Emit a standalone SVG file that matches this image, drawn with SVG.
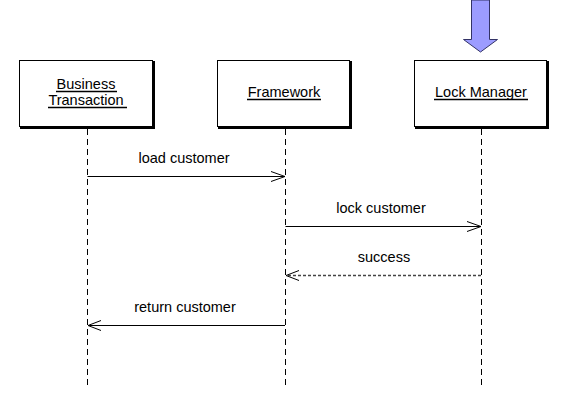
<svg xmlns="http://www.w3.org/2000/svg" width="564" height="413" viewBox="0 0 564 413">
<defs>
<style>
text{font-family:"Liberation Sans",Arial,sans-serif;font-size:14.5px;fill:#000}
.box{fill:#fff;stroke:#000;stroke-width:1}
.shadow{fill:none;stroke:#000;stroke-width:2}
.life{stroke:#000;stroke-width:1;stroke-dasharray:6,4;fill:none}
.msg{stroke:#000;stroke-width:1;fill:none}
.ret{stroke:#444;stroke-width:1.6;stroke-dasharray:3,2;fill:none}
.ul{stroke:#000;stroke-width:1.3}
.head{stroke:#000;stroke-width:1;fill:none}
</style>
</defs>
<rect width="564" height="413" fill="#fff"/>
<g id="node-business">
<rect class="box" x="19.5" y="60.5" width="133" height="66"/>
<polyline class="shadow" points="154,61 154,128 20,128"/>
<text x="86" y="89" text-anchor="middle">Business</text>
<text x="86" y="105" text-anchor="middle">Transaction</text>
<line class="ul" x1="56" y1="91.5" x2="117" y2="91.5"/>
<line class="ul" x1="48" y1="107.5" x2="127" y2="107.5"/>
</g>
<g id="node-framework">
<rect class="box" x="217.5" y="60.5" width="132" height="66"/>
<polyline class="shadow" points="351,61 351,128 218,128"/>
<text x="284" y="97" text-anchor="middle">Framework</text>
<line class="ul" x1="247" y1="99.5" x2="321" y2="99.5"/>
</g>
<g id="node-lockmanager">
<rect class="box" x="414.5" y="60.5" width="132" height="66"/>
<polyline class="shadow" points="548,61 548,128 415,128"/>
<text x="481" y="97" text-anchor="middle">Lock Manager</text>
<line class="ul" x1="434" y1="99.5" x2="528" y2="99.5"/>
</g>
<g id="indicator">
<polygon points="471.5,0 489.5,0 489.5,39.5 497.5,39.5 480.5,52 463.5,39.5 471.5,39.5" fill="#9c9cff" stroke="#333366" stroke-width="1"/>
</g>
<g id="connectors">
<line class="life" x1="87.5" y1="129" x2="87.5" y2="386"/>
<line class="life" x1="285.5" y1="129" x2="285.5" y2="386"/>
<line class="life" x1="481.5" y1="129" x2="481.5" y2="386"/>
<line class="msg" x1="87.5" y1="176.5" x2="285" y2="176.5"/>
<polyline class="head" points="271,171.5 285,176.5 271,181.5"/>
<text x="184" y="163" text-anchor="middle">load customer</text>
<line class="msg" x1="285.5" y1="226.5" x2="481" y2="226.5"/>
<polyline class="head" points="467,221.5 481,226.5 467,231.5"/>
<text x="381" y="213" text-anchor="middle">lock customer</text>
<line class="ret" x1="481" y1="275.5" x2="287" y2="275.5"/>
<polyline class="head" points="299,270.5 286,275.5 299,280.5"/>
<text x="384" y="262" text-anchor="middle">success</text>
<line class="msg" x1="285" y1="325.5" x2="88" y2="325.5"/>
<polyline class="head" points="101,320.5 88,325.5 101,330.5"/>
<text x="185" y="312" text-anchor="middle">return customer</text>
</g>
</svg>
